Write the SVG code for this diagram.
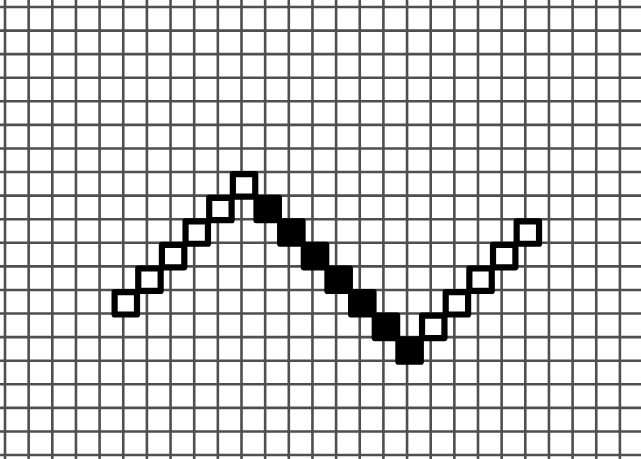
<svg xmlns="http://www.w3.org/2000/svg" width="641" height="459" viewBox="0 0 641 459">
<style>
.grid{stroke:#4f4f4f;stroke-width:2.6;fill:none}
.sq{stroke:#000;stroke-width:6.2;stroke-linejoin:round}
.h{fill:#fff}
.f{fill:#000}
</style>
<rect width="641" height="459" fill="#fff"/>
<g id="grid" class="grid">
<path d="M5,0V459M28.65,0V459M52.3,0V459M75.95,0V459M99.6,0V459M123.25,0V459M146.9,0V459M170.55,0V459M194.2,0V459M217.85,0V459M241.5,0V459M265.15,0V459M288.8,0V459M312.45,0V459M336.1,0V459M359.75,0V459M383.4,0V459M407.05,0V459M430.7,0V459M454.35,0V459M478,0V459M501.65,0V459M525.3,0V459M548.95,0V459M572.6,0V459M596.25,0V459M619.9,0V459"/>
<path d="M0,7H641M0,30.58H641M0,54.16H641M0,77.74H641M0,101.32H641M0,124.9H641M0,148.48H641M0,172.06H641M0,195.64H641M0,219.22H641M0,242.8H641M0,266.38H641M0,289.96H641M0,313.54H641M0,337.12H641M0,360.7H641M0,384.28H641M0,407.86H641M0,431.44H641M0,455.02H641"/>
</g>
<g id="left-chain" class="sq h">
<rect x="114.6" y="292.1" width="22.4" height="22.4"/>
<rect x="138.25" y="268.52" width="22.4" height="22.4"/>
<rect x="161.9" y="244.94" width="22.4" height="22.4"/>
<rect x="185.55" y="221.36" width="22.4" height="22.4"/>
<rect x="209.2" y="197.78" width="22.4" height="22.4"/>
<rect x="232.85" y="174.2" width="22.4" height="22.4"/>
</g>
<g id="falling-chain" class="sq f">
<rect x="256.5" y="197.78" width="22.4" height="22.4"/>
<rect x="280.15" y="221.36" width="22.4" height="22.4"/>
<rect x="303.8" y="244.94" width="22.4" height="22.4"/>
<rect x="327.45" y="268.52" width="22.4" height="22.4"/>
<rect x="351.1" y="292.1" width="22.4" height="22.4"/>
<rect x="374.75" y="315.68" width="22.4" height="22.4"/>
<rect x="398.4" y="339.26" width="22.4" height="22.4"/>
</g>
<g id="right-chain" class="sq h">
<rect x="422.05" y="315.68" width="22.4" height="22.4"/>
<rect x="445.7" y="292.1" width="22.4" height="22.4"/>
<rect x="469.35" y="268.52" width="22.4" height="22.4"/>
<rect x="493" y="244.94" width="22.4" height="22.4"/>
<rect x="516.65" y="221.36" width="22.4" height="22.4"/>
</g>
</svg>
